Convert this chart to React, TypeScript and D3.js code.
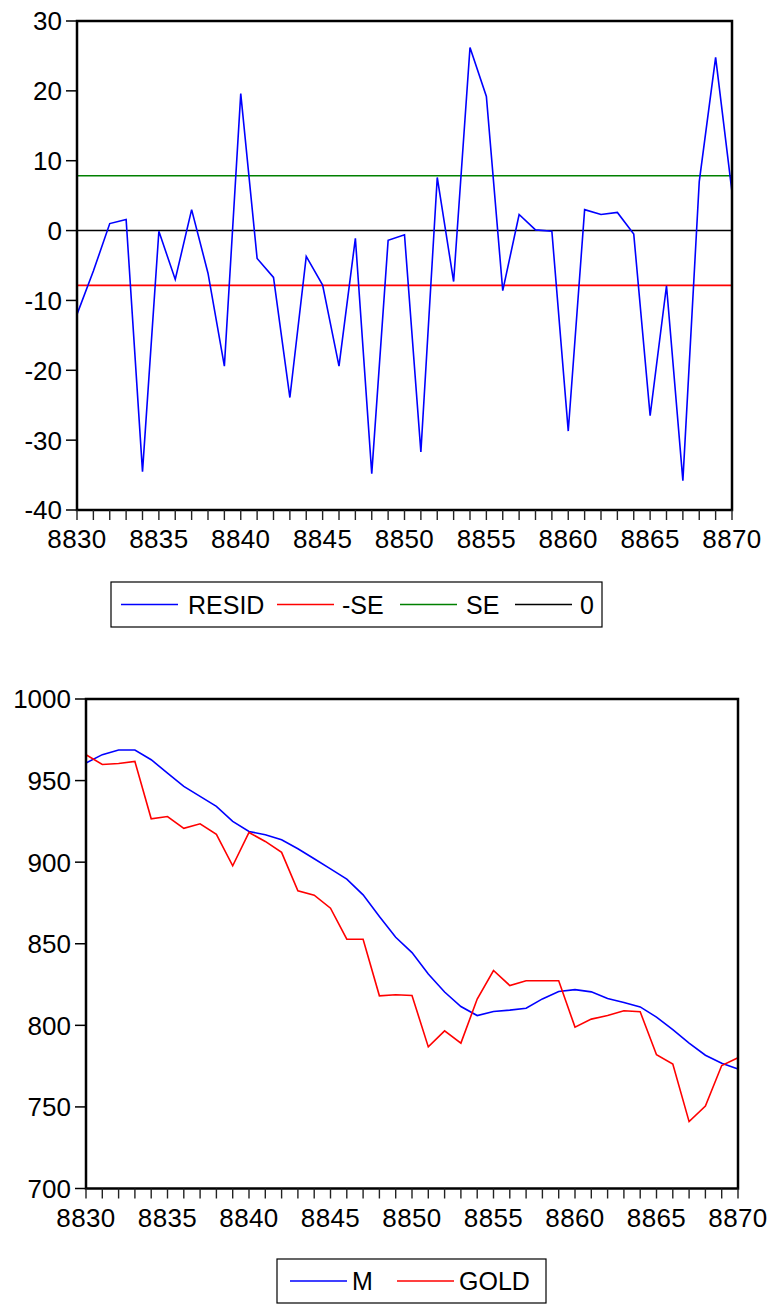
import React from "react";
import * as d3 from "d3";

const years: number[] = d3.range(8830, 8871);

const resid: number[] = [
  -12, -5.8, 1.0, 1.6, -34.5, -0.1, -7.0, 3.0, -6.1, -19.4,
  19.6, -4.0, -6.7, -23.9, -3.7, -7.8, -19.4, -1.1, -34.8, -1.4,
  -0.6, -31.7, 7.6, -7.3, 26.2, 19.2, -8.6, 2.3, 0.1, -0.1,
  -28.7, 3.0, 2.3, 2.6, -0.5, -26.5, -7.9, -35.8, 7.0, 24.8, 5.5,
];
const seValue = 7.85;

const mSeries: number[] = [
  960.8, 965.9, 968.7, 968.7, 962.8, 954.6, 946.4, 940.3, 934.2, 925.0,
  918.8, 916.8, 913.7, 908.2, 902.1, 895.9, 889.6, 880.0, 866.7, 854.0,
  844.6, 831.4, 820.4, 811.5, 806.0, 808.5, 809.3, 810.5, 816.2, 820.7,
  821.9, 820.5, 816.4, 814.0, 811.3, 805.0, 797.3, 789.1, 781.7, 776.8, 773.2,
];
const goldSeries: number[] = [
  965.8, 959.9, 960.5, 961.7, 926.6, 928.0, 920.7, 923.5, 917.0, 897.8,
  918.2, 912.7, 906.0, 882.5, 879.8, 871.8, 852.8, 852.8, 818.1, 818.7,
  818.3, 786.8, 796.6, 789.1, 816.1, 833.6, 824.4, 827.3, 827.3, 827.3,
  798.9, 803.8, 806.0, 808.9, 808.3, 782.0, 776.3, 741.0, 750.5, 775.4, 780.1,
];

const xTickLabels: number[] = [8830, 8835, 8840, 8845, 8850, 8855, 8860, 8865, 8870];
const topYTicks: number[] = [30, 20, 10, 0, -10, -20, -30, -40];
const botYTicks: number[] = [1000, 950, 900, 850, 800, 750, 700];

const FONT = "'Liberation Sans', Arial, sans-serif";

type Series = { name: string; values: number[]; color: string };

function Panel(props: {
  left: number; top: number; right: number; bottom: number;
  yDomain: [number, number]; yTicks: number[]; series: Series[];
}) {
  const { left, top, right, bottom, yDomain, yTicks, series } = props;
  const x = d3.scaleLinear().domain([8830, 8870]).range([left, right]);
  const y = d3.scaleLinear().domain(yDomain).range([bottom, top]);
  const line = d3.line<number>().x((_, i) => x(years[i])).y((d) => y(d));
  return (
    <g>
      {series.map((s) => (
        <path key={s.name} d={line(s.values) || ""} fill="none" stroke={s.color} strokeWidth={1.6} strokeLinejoin="miter" />
      ))}
      <rect x={left} y={top} width={right - left} height={bottom - top} fill="none" stroke="#000" strokeWidth={2.5} />
      {yTicks.map((t) => (
        <g key={"y" + t}>
          <line x1={left - 11} x2={left} y1={y(t)} y2={y(t)} stroke="#000" strokeWidth={1.5} />
          <text x={left - 15} y={y(t)} dy="0.36em" textAnchor="end" fontFamily={FONT} fontSize={26} fill="#000">{t}</text>
        </g>
      ))}
      {years.map((yr) => (
        <line key={"xt" + yr} x1={x(yr)} x2={x(yr)} y1={bottom} y2={bottom + 10} stroke="#222" strokeWidth={1.4} />
      ))}
      {xTickLabels.map((t) => (
        <text key={"xl" + t} x={x(t)} y={bottom + 38} textAnchor="middle" fontFamily={FONT} fontSize={26} fill="#000" letterSpacing={0.4}>{t}</text>
      ))}
    </g>
  );
}

function Legend(props: { x: number; y: number; w: number; h: number; items: { label: string; color: string; lx: number; tx: number }[] }) {
  const { x, y, w, h, items } = props;
  const cy = y + h / 2;
  return (
    <g>
      <rect x={x} y={y} width={w} height={h} fill="#fff" stroke="#000" strokeWidth={1.2} />
      {items.map((it) => (
        <g key={it.label}>
          <line x1={it.lx} x2={it.lx + 57} y1={cy} y2={cy} stroke={it.color} strokeWidth={1.3} />
          <text x={it.tx} y={cy} dy="0.36em" fontFamily={FONT} fontSize={25} fill="#000">{it.label}</text>
        </g>
      ))}
    </g>
  );
}

export default function App() {
  const neg = resid.map(() => -seValue);
  const pos = resid.map(() => seValue);
  const zero = resid.map(() => 0);
  return (
    <svg width={771} height={1304} style={{ position: "absolute", left: 0, top: 0, background: "#fff" }}>
      <rect x={0} y={0} width={771} height={1304} fill="#fff" />
      <Panel
        left={77} top={21} right={732} bottom={510}
        yDomain={[-40, 30]} yTicks={topYTicks}
        series={[
          { name: "zero", values: zero, color: "#000" },
          { name: "-SE", values: neg, color: "#ff0000" },
          { name: "SE", values: pos, color: "#008000" },
          { name: "RESID", values: resid, color: "#0000ff" },
        ]}
      />
      <Legend
        x={111} y={582} w={491} h={45}
        items={[
          { label: "RESID", color: "#0000ff", lx: 121, tx: 188 },
          { label: "-SE", color: "#ff0000", lx: 277, tx: 342 },
          { label: "SE", color: "#008000", lx: 400, tx: 466 },
          { label: "0", color: "#000", lx: 515, tx: 580 },
        ]}
      />
      <Panel
        left={86} top={699} right={738} bottom={1188.5}
        yDomain={[700, 1000]} yTicks={botYTicks}
        series={[
          { name: "M", values: mSeries, color: "#0000ff" },
          { name: "GOLD", values: goldSeries, color: "#ff0000" },
        ]}
      />
      <Legend
        x={277} y={1259} w={269} h={44}
        items={[
          { label: "M", color: "#0000ff", lx: 290, tx: 352 },
          { label: "GOLD", color: "#ff0000", lx: 397, tx: 459 },
        ]}
      />
    </svg>
  );
}
